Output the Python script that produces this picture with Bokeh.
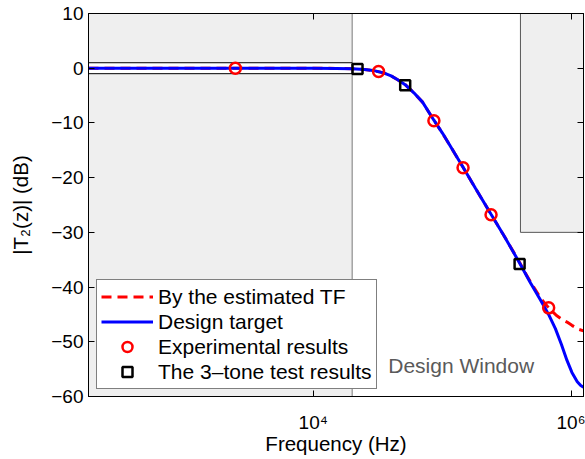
from bokeh.plotting import figure
from bokeh.models import (Range1d, FixedTicker, LinearAxis, LogAxis, Legend,
                          LegendItem, Label)
from bokeh.embed import file_html
from bokeh.resources import INLINE

# ---------------- data ----------------
# Design target (blue solid)
freq_target = [183, 1000, 5000, 10000, 15000, 20000, 25000, 30000, 35000,
               40000, 45000, 51400, 60000, 70000, 85700, 100000, 120000,
               144000, 180000, 237000, 300000, 394000, 480000, 570000,
               660000, 745000, 830000, 916000, 1000000, 1100000, 1170000,
               1229000]
db_target = [0.0, 0.0, 0.0, -0.01, -0.03, -0.1, -0.23, -0.48, -0.85,
             -1.4, -2.1, -3.0, -4.5, -6.2, -9.5, -11.9, -15.0,
             -18.1, -22.0, -26.7, -30.7, -35.6, -39.3, -42.3,
             -45.0, -47.6, -50.5, -53.4, -55.6, -57.3, -58.0,
             -58.3]

# By the estimated TF (red dashed)
freq_est = [183, 1000, 5000, 10000, 15000, 20000, 25000, 30000, 35000,
            40000, 45000, 51400, 60000, 70000, 85700, 100000, 120000,
            144000, 180000, 237000, 300000, 394000, 450000, 506000,
            580000, 661000, 760000, 863000, 916000, 1000000, 1120000,
            1229000]
db_est = [0.0, 0.0, 0.0, -0.01, -0.03, -0.1, -0.23, -0.48, -0.85,
          -1.4, -2.1, -3.0, -4.5, -6.2, -9.5, -11.9, -15.0,
          -18.1, -22.0, -26.7, -30.7, -35.5, -38.0, -40.0,
          -42.2, -43.8, -45.2, -46.1, -46.4, -47.0, -47.7,
          -48.0]

# Experimental results (red circles)
freq_exp = [2500, 32000, 85700, 144000, 237000, 661000]
db_exp = [0.0, -0.6, -9.6, -18.2, -26.8, -43.8]

# 3-tone test results (black squares)
freq_3tone = [22000, 51400, 394000]
db_3tone = [-0.15, -3.1, -35.8]

# Design window
f_pass = 20000
f_stop = 400000
ripple_db = 1.0
stop_db = -30

x_lim = [183, 1.229e6]
y_lim = [-60, 10]
x_ticks = [1e4, 1e6]
x_tick_labels = ["10\u2074", "10\u2076"]
y_ticks = [-60, -50, -40, -30, -20, -10, 0, 10]
y_tick_labels = ["\u221260", "\u221250", "\u221240", "\u221230",
                 "\u221220", "\u221210", "0", "10"]

legend_labels = ["By the estimated TF", "Design target",
                 "Experimental results", "The 3\u2013tone test results"]

# ---------------- figure ----------------
FONT = "Liberation Sans"
p = figure(width=585, height=459, x_axis_type="log",
           x_range=Range1d(*x_lim), y_range=Range1d(*y_lim),
           output_backend="svg", toolbar_location=None,
           min_border_left=88, min_border_right=2, min_border_top=13,
           min_border_bottom=63)
p.grid.visible = False
p.outline_line_color = "black"
p.outline_line_width = 1
p.background_fill_color = "white"

# design window shading
p.quad(left=x_lim[0], right=f_pass, bottom=y_lim[0], top=y_lim[1],
       fill_color="#efefef", line_color="#7a7a7a", line_width=1)
p.quad(left=x_lim[0], right=f_pass, bottom=-ripple_db, top=ripple_db,
       fill_color="white", line_color="black", line_width=1)
p.quad(left=f_stop, right=x_lim[1], bottom=stop_db, top=y_lim[1],
       fill_color="#efefef", line_color="#555555", line_width=1)

r_est = p.line(freq_est, db_est, line_color="red", line_width=3,
               line_dash="10 6")
r_tgt = p.line(freq_target, db_target, line_color="blue", line_width=3)
r_exp = p.scatter(freq_exp, db_exp, marker="circle", size=11,
                  fill_color=None, line_color="red", line_width=2.5)
r_3t = p.scatter(freq_3tone, db_3tone, marker="square", size=10,
                 fill_color=None, line_color="black", line_width=2.5)

# axes
xa = p.xaxis[0]
xa.ticker = FixedTicker(ticks=x_ticks, minor_ticks=[])
xa.major_label_overrides = dict(zip(x_ticks, x_tick_labels))
ya = p.yaxis[0]
ya.ticker = FixedTicker(ticks=y_ticks, minor_ticks=[])
ya.major_label_overrides = dict(zip(y_ticks, y_tick_labels))

for ax in (xa, ya):
    ax.major_tick_in = 6
    ax.major_tick_out = 0
    ax.minor_tick_in = 0
    ax.minor_tick_out = 0
    ax.axis_line_color = "black"
    ax.major_tick_line_color = "black"
    ax.major_label_text_font = FONT
    ax.major_label_text_font_size = "19px"
    ax.major_label_text_color = "black"
    ax.axis_label_text_font = FONT
    ax.axis_label_text_font_size = "20.5px"
    ax.axis_label_text_font_style = "normal"
    ax.axis_label_text_color = "black"

xa.axis_label = "Frequency (Hz)"
xa.major_label_standoff = 15
xa.axis_label_standoff = -4
ya.axis_label = "|T\u2082(z)| (dB)"
ya.major_label_standoff = 5
ya.axis_label_standoff = 16

# mirrored ticks on top and right (labels invisible)
top = LogAxis(ticker=FixedTicker(ticks=x_ticks, minor_ticks=[]),
              major_label_text_font_size="1px", major_label_text_alpha=0,
              major_label_standoff=0,
              major_tick_in=6, major_tick_out=0, minor_tick_in=0,
              minor_tick_out=0, axis_line_color="black")
right = LinearAxis(ticker=FixedTicker(ticks=y_ticks, minor_ticks=[]),
                   major_label_text_font_size="1px", major_label_text_alpha=0,
                   major_label_standoff=0,
                   major_tick_in=6, major_tick_out=0, minor_tick_in=0,
                   minor_tick_out=0, axis_line_color="black")
p.add_layout(top, "above")
p.add_layout(right, "right")

# Design window label
p.add_layout(Label(x=38000, y=-54.3, text="Design Window",
                   text_font=FONT, text_font_size="21px",
                   text_color="#5a5a5a", text_baseline="alphabetic",
                   text_align="left"))

legend = Legend(items=[
    LegendItem(label=legend_labels[0], renderers=[r_est]),
    LegendItem(label=legend_labels[1], renderers=[r_tgt]),
    LegendItem(label=legend_labels[2], renderers=[r_exp]),
    LegendItem(label=legend_labels[3], renderers=[r_3t]),
], location=(8, 7))
legend.label_text_font = FONT
legend.label_text_font_size = "21px"
legend.label_text_color = "black"
legend.border_line_color = "black"
legend.border_line_width = 1
legend.background_fill_color = "white"
legend.background_fill_alpha = 1
legend.padding = 4
legend.spacing = 0
legend.margin = 0
legend.label_height = 25
legend.glyph_height = 25
legend.glyph_width = 52
legend.label_standoff = 5
p.add_layout(legend, "center")

open("out.html", "w").write(file_html(p, INLINE))
